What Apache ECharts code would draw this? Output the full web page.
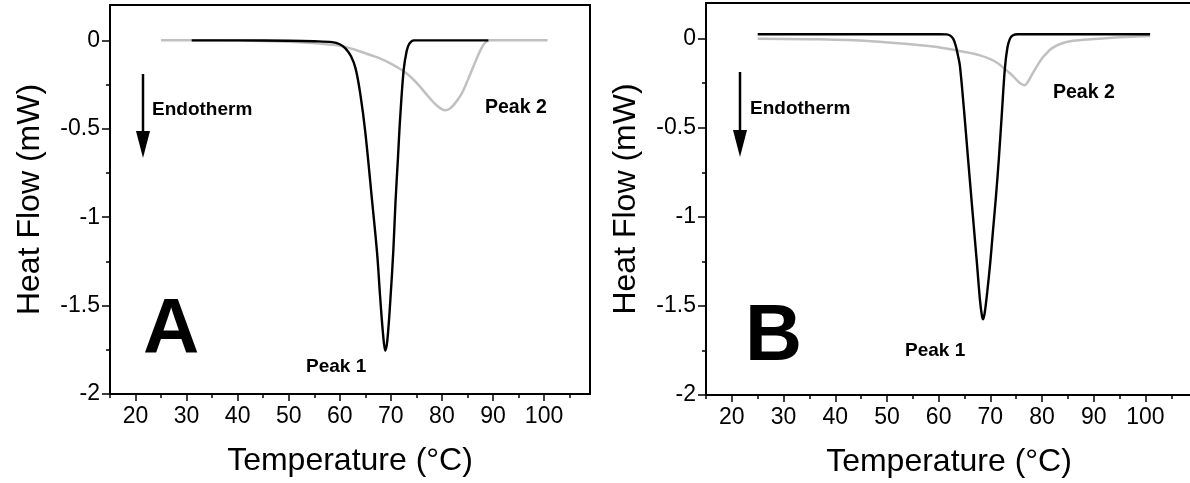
<!DOCTYPE html>
<html>
<head>
<meta charset="utf-8">
<script src="https://cdn.jsdelivr.net/npm/echarts@6/dist/echarts.min.js"></script>
<style>
html, body { margin: 0; padding: 0; background: #fff; overflow: hidden; }
/* wider than the window so panel B's right edge falls outside the picture */
#main { width: 1210px; height: 483px; }
</style>
</head>
<body>
<div id="main"></div>
<script>
// tick values
var xTicks = [20, 30, 40, 50, 60, 70, 80, 90, 100];
var xMinor = [15, 25, 35, 45, 55, 65, 75, 85, 95, 105];
var yTicks = [0, -0.5, -1, -1.5, -2];
var yMinor = [-0.25, -0.75, -1.25, -1.75];

// panel A: [temperature, heat flow]
var peak1A = [[31, 0], [40, 0], [50, -0.002], [55, -0.005], [58.5, -0.01], [60, -0.022], [61.1, -0.045],
    [62.2, -0.09], [63.1, -0.16], [64, -0.3], [65, -0.52], [66.3, -0.9], [67.3, -1.2], [67.9, -1.45],
    [68.5, -1.67], [68.9, -1.755], [69.3, -1.7], [69.9, -1.47], [70.5, -1.18], [70.9, -0.92],
    [71.4, -0.66], [71.8, -0.45], [72.5, -0.17], [73.1, -0.06], [73.6, -0.02], [74.5, 0], [80, 0], [89.1, 0]];
var peak2A = [[25, 0], [35, 0], [45, -0.003], [52, -0.01], [56, -0.018], [60, -0.03], [63, -0.053],
    [65, -0.073], [67.5, -0.098], [70, -0.132], [72.5, -0.175], [74, -0.21], [75.5, -0.255], [77.4, -0.32],
    [79, -0.368], [80.6, -0.395], [81.6, -0.385], [82.6, -0.355], [83.9, -0.3], [85.2, -0.215],
    [86.5, -0.125], [87.5, -0.058], [88.4, -0.015], [89.4, 0], [95, 0], [100.7, 0]];

// panel B
var peak1B = [[25, 0.025], [45, 0.025], [60, 0.025], [61.5, 0.024], [62.2, 0.018], [62.8, 0], [63.3, -0.04],
    [63.7, -0.09], [64.1, -0.15], [64.9, -0.4], [65.7, -0.68], [66.4, -0.92], [67.4, -1.26], [68, -1.47],
    [68.4, -1.56], [68.6, -1.575], [68.9, -1.54], [69.4, -1.42], [70, -1.25], [70.5, -1.08], [71.1, -0.88],
    [71.65, -0.67], [72.2, -0.43], [72.8, -0.17], [73.3, -0.05], [73.8, 0], [74.3, 0.018], [75.3, 0.025],
    [90, 0.025], [100.9, 0.025]];
var peak2B = [[25, 0], [37, -0.004], [47, -0.015], [56.4, -0.037], [60, -0.048], [63.5, -0.066], [66, -0.08],
    [68, -0.094], [70, -0.115], [71.5, -0.14], [72.8, -0.17], [74, -0.2], [75.2, -0.235], [76, -0.255],
    [76.6, -0.262], [77.2, -0.245], [78, -0.205], [78.9, -0.16], [80, -0.11], [81, -0.078], [81.8, -0.056],
    [83.5, -0.03], [86, -0.012], [90, -0.002], [95, 0.008], [100.9, 0.015]];

var FONT = 'Arial, "Liberation Sans", sans-serif';
var myChart = echarts.init(document.getElementById('main'));

function mainX(g) {
    return {
        type: 'value', gridIndex: g, min: 15, max: 109, position: 'bottom',
        splitLine: { show: false },
        axisLine: { onZero: false, lineStyle: { color: '#000', width: 2 } },
        axisTick: { customValues: xTicks, length: 7, lineStyle: { color: '#000', width: 1.5 } },
        axisLabel: { customValues: xTicks, margin: 11, color: '#000', fontSize: 23, fontFamily: FONT },
        name: 'Temperature (°C)', nameLocation: 'middle', nameGap: 51,
        nameTextStyle: { color: '#000', fontSize: 32, fontFamily: FONT }
    };
}
function minorX(g) {
    return {
        type: 'value', gridIndex: g, min: 15, max: 109, position: 'bottom',
        splitLine: { show: false },
        axisLine: { show: false, onZero: false },
        axisTick: { customValues: xMinor, length: 4, lineStyle: { color: '#000', width: 1.5 } },
        axisLabel: { show: false }
    };
}
function mainY(g) {
    return {
        type: 'value', gridIndex: g, min: -2, max: 0.2, position: 'left',
        splitLine: { show: false },
        axisLine: { onZero: false, lineStyle: { color: '#000', width: 2 } },
        axisTick: { customValues: yTicks, length: 8, lineStyle: { color: '#000', width: 1.5 } },
        axisLabel: { customValues: yTicks, margin: 10, color: '#000', fontSize: 23, fontFamily: FONT },
        name: 'Heat Flow (mW)', nameLocation: 'middle', nameGap: 64,
        nameTextStyle: { color: '#000', fontSize: 32, fontFamily: FONT }
    };
}
function minorY(g) {
    return {
        type: 'value', gridIndex: g, min: -2, max: 0.2, position: 'left',
        splitLine: { show: false },
        axisLine: { show: false, onZero: false },
        axisTick: { customValues: yMinor, length: 4, lineStyle: { color: '#000', width: 1.5 } },
        axisLabel: { show: false }
    };
}
function curve(data, xi, color, width) {
    return {
        type: 'line', xAxisIndex: xi, yAxisIndex: xi, data: data,
        showSymbol: false, smooth: 0.35, silent: true,
        lineStyle: { color: color, width: width }
    };
}
function label(x, y, text, size) {
    return {
        type: 'text', x: x, y: y, z: 100,
        style: { text: text, font: 'bold ' + size + 'px ' + FONT, fill: '#000',
            textVerticalAlign: 'middle', verticalAlign: 'middle' }
    };
}
function arrow(x, y1, y2) {
    return [
        { type: 'line', z: 100, shape: { x1: x, y1: y1, x2: x, y2: y2 - 22 }, style: { stroke: '#000', lineWidth: 2.5 } },
        { type: 'polygon', z: 100, shape: { points: [[x - 7, y2 - 27], [x + 7, y2 - 27], [x, y2]] }, style: { fill: '#000' } }
    ];
}

option = {
    backgroundColor: '#fff',
    animation: false,
    grid: [
        { left: 110, top: 5, width: 480, height: 389, show: true, borderColor: '#000', borderWidth: 2 },
        { left: 706, top: 3, width: 486, height: 393, show: true, borderColor: '#000', borderWidth: 2 }
    ],
    xAxis: [mainX(0), minorX(0), mainX(1), minorX(1)],
    yAxis: [mainY(0), minorY(0), mainY(1), minorY(1)],
    series: [
        curve(peak2A, 0, '#c0c0c0', 2.5),
        curve(peak1A, 0, '#000', 2.4),
        curve(peak2B, 2, '#c0c0c0', 2.5),
        curve(peak1B, 2, '#000', 2.4)
    ],
    graphic: [].concat(
        arrow(143, 74, 158),
        arrow(740, 72, 157),
        [
            label(152, 110, 'Endotherm', 19),
            label(485, 107.5, 'Peak 2', 19.5),
            label(306, 366.5, 'Peak 1', 19),
            label(143, 331, 'A', 78),
            label(750, 108.5, 'Endotherm', 19),
            label(1053, 92.5, 'Peak 2', 19.5),
            label(905, 351, 'Peak 1', 19),
            label(745, 338, 'B', 79)
        ]
    )
};
myChart.setOption(option);

window.onresize = function () {
    if (myChart) {
        myChart.resize();
    }
};
</script>
</body>
</html>
